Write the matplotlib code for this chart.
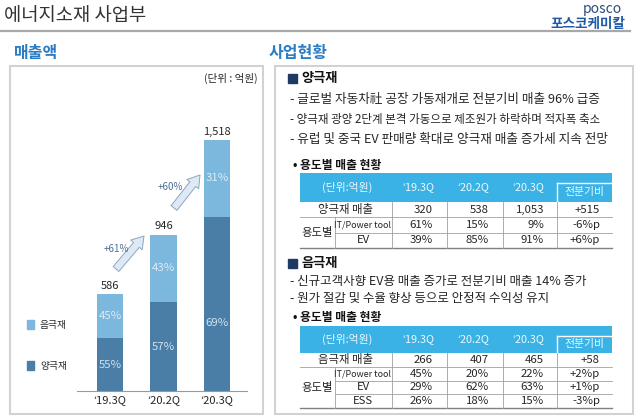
import matplotlib
matplotlib.use('Agg')
import matplotlib.pyplot as plt
from matplotlib.patches import Rectangle

plt.rcParams['font.family'] = ['Noto Sans CJK KR', 'DejaVu Sans']

# --- data -------------------------------------------------------------
quarters = ['‘19.3Q', '‘20.2Q', '‘20.3Q']
cathode = [320, 538, 1053]      # 양극재 (dark)
anode = [266, 407, 465]         # 음극재 (light)
total_labels = ['586', '946', '1,518']
cathode_pct = ['55%', '57%', '69%']
anode_pct = ['45%', '43%', '31%']
growth = ['+61%', '+60%']

cath_bullets = ['- 글로벌 자동차社 공장 가동재개로 전분기비 매출 96% 급증',
                '- 양극재 광양 2단계 본격 가동으로 제조원가 하락하며 적자폭 축소',
                '- 유럽 및 중국 EV 판매량 확대로 양극재 매출 증가세 지속 전망']
anode_bullets = ['- 신규고객사향 EV용 매출 증가로 전분기비 매출 14% 증가',
                 '- 원가 절감 및 수율 향상 등으로 안정적 수익성 유지']

tbl_header = ['(단위:억원)', '‘19.3Q', '‘20.2Q', '‘20.3Q', '전분기비']
cath_total = ['양극재 매출', '320', '538', '1,053', '+515']
cath_use = [['IT/Power tool', '61%', '15%', '9%', '-6%p'],
            ['EV', '39%', '85%', '91%', '+6%p']]
anode_total = ['음극재 매출', '266', '407', '465', '+58']
anode_use = [['IT/Power tool', '45%', '20%', '22%', '+2%p'],
             ['EV', '29%', '62%', '63%', '+1%p'],
             ['ESS', '26%', '18%', '15%', '-3%p']]

# --- colours ----------------------------------------------------------
c_light = '#7cb8de'
c_dark = '#4a7ea6'
c_head = '#3bb2e6'
c_blue = '#2a7cc4'
c_text = '#262626'

fig = plt.figure(figsize=(6.4, 4.2), dpi=100)
ov = fig.add_axes([0, 0, 1, 1])
ov.set_xlim(0, 640)
ov.set_ylim(420, 0)
ov.axis('off')

# header
ov.text(4, 16, '에너지소재 사업부', fontsize=13.5, color='#333333', va='center')
ov.text(622, 9, 'posco', fontsize=10, color='#2b4a80', ha='right', va='center')
ov.text(625, 24, '포스코케미칼', fontsize=9.8, color='#1f5aa8', ha='right',
        va='center', fontweight='bold')
ov.plot([0, 630], [31, 31], color='#a8a8a8', lw=1.6)

ov.text(14, 53, '매출액', fontsize=11.5, color=c_blue, fontweight='bold', va='center')
ov.text(269, 53, '사업현황', fontsize=11.5, color=c_blue, fontweight='bold', va='center')

# boxes
ov.add_patch(Rectangle((10, 66), 253, 348, fill=False, ec='#d2d2d2', lw=1.5))
ov.add_patch(Rectangle((275, 66), 358, 348, fill=False, ec='#d2d2d2', lw=1.5))

ov.text(258, 78, '(단위 : 억원)', fontsize=7.6, color=c_text, ha='right', va='center')

# legend
ov.add_patch(Rectangle((27, 320), 7, 9, color=c_light))
ov.text(40, 325, '음극재', fontsize=7, color=c_text, va='center')
ov.add_patch(Rectangle((27, 361), 7, 9, color=c_dark))
ov.text(40, 366, '양극재', fontsize=7, color=c_text, va='center')

# --- bar chart --------------------------------------------------------
ax = fig.add_axes([77 / 640, (420 - 391) / 420, 170 / 640, (391 - 70) / 420])
ax.patch.set_alpha(0)
x = list(range(len(quarters)))
ax.bar(x, cathode, width=0.49, color=c_dark)
ax.bar(x, anode, width=0.49, bottom=cathode, color=c_light)
ax.set_xlim(-0.617, 2.56)
ax.set_ylim(0, 1941)
for s in ['top', 'right', 'left']:
    ax.spines[s].set_visible(False)
ax.spines['bottom'].set_color('#9a9a9a')
ax.set_yticks([])
ax.set_xticks(x)
ax.set_xticklabels(quarters, fontsize=8, color=c_text)
ax.tick_params(axis='x', length=0, pad=3)

dark_lbl_y = [160, 269, 411]
for i in x:
    tot = cathode[i] + anode[i]
    ax.text(i, tot + 20, total_labels[i], ha='center', va='bottom',
            fontsize=8, color=c_text)
    ax.text(i, cathode[i] + anode[i] / 2, anode_pct[i], ha='center',
            va='center', fontsize=8.2, color='#dcecf7')
    ax.text(i, dark_lbl_y[i], cathode_pct[i], ha='center', va='center',
            fontsize=8.2, color='#cfe3f1')

# growth arrows
arrows = [((116, 269), (144, 236), (116, 249)),
          ((174, 208), (200, 175), (170, 187))]
for (s, e, lp), g in zip(arrows, growth):
    ov.annotate('', xy=e, xytext=s,
                arrowprops=dict(arrowstyle='simple,head_width=0.9,head_length=0.7,tail_width=0.45',
                                fc='#dde9f4', ec='#8ea6bf', lw=0.7, mutation_scale=12,
                                shrinkA=0, shrinkB=0))
    ov.text(lp[0], lp[1], g, fontsize=7, color='#4a6f95', ha='center', va='center')

# --- right side text --------------------------------------------------
def section(y, title, bullets, sizes, first, gap):
    ov.add_patch(Rectangle((288, y - 4.5), 9, 9, color='#1f3864'))
    ov.text(301, y, title, fontsize=9.5, fontweight='bold', color='#111111', va='center')
    for k, b in enumerate(bullets):
        ov.text(290, y + first + k * gap, b, fontsize=sizes[k], color=c_text, va='center')

section(78, '양극재', cath_bullets, [9.1, 8.3, 9.1], 22, 19.7)
section(263, '음극재', anode_bullets, [9.0, 9.0], 19, 16.5)
ov.text(293, 165, '• 용도별 매출 현황', fontsize=8.5, fontweight='bold', color='#111111', va='center')
ov.text(293, 318, '• 용도별 매출 현황', fontsize=8.5, fontweight='bold', color='#111111', va='center')

# --- tables -----------------------------------------------------------
xl, xsub, xr = 300, 335, 612
col_edges = [392, 447, 503, 557]
head_cx = [347, 418, 473, 528, 584]
val_rx = [433, 489, 544, 600]


def table(top, head_h, row_h, total_row, use_rows):
    ov.add_patch(Rectangle((xl, top), xr - xl, head_h, color=c_head, lw=0))
    ov.plot([557, 557], [top + 10, top + head_h], color='white', lw=1)
    ov.plot([557, xr], [top + 10, top + 10], color='white', lw=1)
    for k, h in enumerate(tbl_header):
        yy = top + head_h / 2 + (5 if k == 4 else 0)
        ov.text(head_cx[k], yy, h, fontsize=7.8, color='#eef8fd', ha='center', va='center')
    y0 = top + head_h
    n = 1 + len(use_rows)
    bottom = y0 + n * row_h
    # lines
    ov.plot([xl, xr], [y0 + row_h, y0 + row_h], color='#a0a0a0', lw=0.6)
    for r in range(2, n):
        ov.plot([xsub, xr], [y0 + r * row_h, y0 + r * row_h], color='#a0a0a0', lw=0.6)
    ov.plot([xl, xr], [bottom, bottom], color='#808080', lw=1.0)
    for cx in col_edges:
        ov.plot([cx, cx], [y0, bottom], color='#a0a0a0', lw=0.6)
    ov.plot([xsub, xsub], [y0 + row_h, bottom], color='#a0a0a0', lw=0.6)
    # text
    rows = [total_row] + use_rows
    for r, row in enumerate(rows):
        cy = y0 + r * row_h + row_h / 2
        if r == 0:
            ov.text(346, cy, row[0], fontsize=8.2, color=c_text, ha='center', va='center')
        else:
            fs = 6.4 if len(row[0]) > 4 else 8.2
            ov.text(363, cy, row[0], fontsize=fs, color=c_text, ha='center', va='center')
        for k, v in enumerate(row[1:]):
            ov.text(val_rx[k], cy, v, fontsize=8.2, color=c_text, ha='right', va='center')
    ov.text((xl + xsub) / 2, (y0 + row_h + bottom) / 2, '용도별', fontsize=8.2,
            color=c_text, ha='center', va='center')


table(173, 29, 15.3, cath_total, cath_use)
table(326, 27, 13.75, anode_total, anode_use)

fig.savefig('out.png', dpi=100)
